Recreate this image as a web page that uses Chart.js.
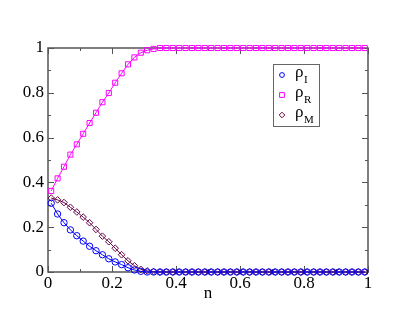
<!DOCTYPE html>
<html>
<head>
<meta charset="utf-8">
<script src="https://cdn.jsdelivr.net/npm/chart.js@4.4.1/dist/chart.umd.min.js"></script>
<style>
  html, body { margin: 0; padding: 0; background: #fff; }
  #wrap { width: 415px; height: 321px; }
</style>
</head>
<body>
<div id="wrap"><canvas id="chart" width="415" height="321"></canvas></div>
<script>
// densities vs n
const nVals = [0.01, 0.03, 0.05, 0.07, 0.09, 0.11, 0.13, 0.15, 0.17, 0.19,
               0.21, 0.23, 0.25, 0.27, 0.29, 0.31, 0.33, 0.35, 0.37, 0.39,
               0.41, 0.43, 0.45, 0.47, 0.49, 0.51, 0.53, 0.55, 0.57, 0.59,
               0.61, 0.63, 0.65, 0.67, 0.69, 0.71, 0.73, 0.75, 0.77, 0.79,
               0.81, 0.83, 0.85, 0.87, 0.89, 0.91, 0.93, 0.95, 0.97, 0.99];
const rhoI = [0.307, 0.259, 0.220, 0.188, 0.162, 0.138, 0.115, 0.095, 0.077, 0.059,
              0.045, 0.033, 0.019, 0.009, 0.003, 0, 0, 0, 0, 0,
              0, 0, 0, 0, 0, 0, 0, 0, 0, 0,
              0, 0, 0, 0, 0, 0, 0, 0, 0, 0,
              0, 0, 0, 0, 0, 0, 0, 0, 0, 0];
const rhoR = [0.362, 0.418, 0.470, 0.524, 0.570, 0.617, 0.665, 0.711, 0.758, 0.799,
              0.845, 0.887, 0.927, 0.958, 0.979, 0.990, 0.996, 1, 1, 1,
              1, 1, 1, 1, 1, 1, 1, 1, 1, 1,
              1, 1, 1, 1, 1, 1, 1, 1, 1, 1,
              1, 1, 1, 1, 1, 1, 1, 1, 1, 1];
const rhoM = [0.330, 0.322, 0.310, 0.289, 0.268, 0.245, 0.220, 0.190, 0.160, 0.135,
              0.106, 0.077, 0.050, 0.028, 0.012, 0.005, 0.002, 0, 0, 0,
              0, 0, 0, 0, 0, 0, 0, 0, 0, 0,
              0, 0, 0, 0, 0, 0, 0, 0, 0, 0,
              0, 0, 0, 0, 0, 0, 0, 0, 0, 0];
const xTicks = [0, 0.2, 0.4, 0.6, 0.8, 1];
const yTicks = [0, 0.2, 0.4, 0.6, 0.8, 1];
const subs = ["I", "R", "M"];

const serif = '"Liberation Serif", "Times New Roman", serif';

function pts(ys) {
  return nVals.map((n, i) => ({ x: n, y: ys[i] }));
}

// box round the plot with inward ticks on all four sides (grace style)
const frame = {
  id: 'frame',
  beforeDatasetsDraw(chart) {
    const { ctx, chartArea: a, scales: { x, y } } = chart;
    ctx.save();
    ctx.strokeStyle = '#555';
    ctx.lineWidth = 1.5;
    ctx.strokeRect(a.left, a.top, a.right - a.left, a.bottom - a.top);
    ctx.lineWidth = 1;
    ctx.beginPath();
    const mark = (ticks, isX) => {
      ticks.forEach((v, i) => {
        const list = [[v, 6]];
        if (i < ticks.length - 1) list.push([(v + ticks[i + 1]) / 2, 3]);
        list.forEach(([val, len]) => {
          if (isX) {
            const px = Math.round(x.getPixelForValue(val)) + 0.5;
            ctx.moveTo(px, a.bottom); ctx.lineTo(px, a.bottom - len);
            ctx.moveTo(px, a.top); ctx.lineTo(px, a.top + len);
          } else {
            const py = Math.round(y.getPixelForValue(val)) + 0.5;
            ctx.moveTo(a.left, py); ctx.lineTo(a.left + len, py);
            ctx.moveTo(a.right, py); ctx.lineTo(a.right - len, py);
          }
        });
      });
    };
    mark(xTicks, true);
    mark(yTicks, false);
    ctx.stroke();
    ctx.restore();
  }
};

// legend box inside the plot, rho with subscripts
const legendBox = {
  id: 'legendBox',
  afterDraw(chart) {
    const ctx = chart.ctx;
    const bx = 273, by = 64, bw = 46, bh = 62;
    ctx.save();
    ctx.strokeStyle = '#666';
    ctx.lineWidth = 1;
    ctx.strokeRect(bx + 0.5, by + 0.5, bw, bh);
    chart.data.datasets.forEach((ds, i) => {
      const cx = bx + 9, cy = by + 11 + i * 20;
      ctx.strokeStyle = ds.borderColor;
      ctx.beginPath();
      if (ds.pointStyle === 'circle') {
        ctx.arc(cx, cy, 2.4, 0, Math.PI * 2);
      } else if (ds.pointStyle === 'rect') {
        ctx.rect(cx - 2.4, cy - 2.4, 4.8, 4.8);
      } else {
        ctx.moveTo(cx, cy - 2.8); ctx.lineTo(cx + 2.8, cy);
        ctx.lineTo(cx, cy + 2.8); ctx.lineTo(cx - 2.8, cy); ctx.closePath();
      }
      ctx.stroke();
      ctx.fillStyle = '#000';
      ctx.textBaseline = 'alphabetic';
      ctx.textAlign = 'left';
      ctx.font = '17px ' + serif;
      ctx.fillText('ρ', bx + 22, cy + 2);
      ctx.font = '11px ' + serif;
      ctx.fillText(subs[i], bx + 31, cy + 8);
    });
    ctx.restore();
  }
};

function axis(ticksArr, extra) {
  return Object.assign({
    type: 'linear',
    min: 0,
    max: 1,
    grid: { display: false, drawTicks: false },
    border: { display: false },
    afterBuildTicks: s => { s.ticks = ticksArr.map(v => ({ value: v })); },
    ticks: {
      color: '#000',
      font: { family: serif, size: 17 },
      callback: v => String(v)
    }
  }, extra);
}

new Chart(document.getElementById('chart'), {
  type: 'scatter',
  data: {
    datasets: [
      { label: 'ρI', data: pts(rhoI), borderColor: '#0000ff', pointStyle: 'circle', pointRadius: 3.2 },
      { label: 'ρR', data: pts(rhoR), borderColor: '#ff00ff', pointStyle: 'rect', pointRadius: 3.6 },
      { label: 'ρM', data: pts(rhoM), borderColor: '#670748', pointStyle: 'rectRot', pointRadius: 3.3 }
    ].map(d => Object.assign(d, {
      showLine: true,
      borderWidth: 1,
      pointBorderColor: d.borderColor,
      pointBackgroundColor: 'rgba(0,0,0,0)',
      pointBorderWidth: 1,
      backgroundColor: 'rgba(0,0,0,0)',
      clip: false
    }))
  },
  options: {
    responsive: false,
    animation: false,
    devicePixelRatio: 1,
    layout: { padding: { left: 0, top: 48, right: 47, bottom: 0 } },
    plugins: { legend: { display: false }, tooltip: { enabled: false } },
    scales: {
      x: axis(xTicks, {
        position: 'bottom',
        afterFit: s => { s.height = 49; },
        ticks: { color: '#000', font: { family: serif, size: 17 }, padding: 1, maxRotation: 0, callback: v => String(v) },
        title: { display: true, text: 'n', color: '#000', font: { family: serif, size: 17 }, padding: { top: 0, bottom: 17 } }
      }),
      y: axis(yTicks, {
        position: 'left',
        afterFit: s => { s.width = 48; },
        ticks: { color: '#000', font: { family: serif, size: 17 }, padding: 4, callback: v => String(v) }
      })
    }
  },
  plugins: [frame, legendBox]
});
</script>
</body>
</html>
